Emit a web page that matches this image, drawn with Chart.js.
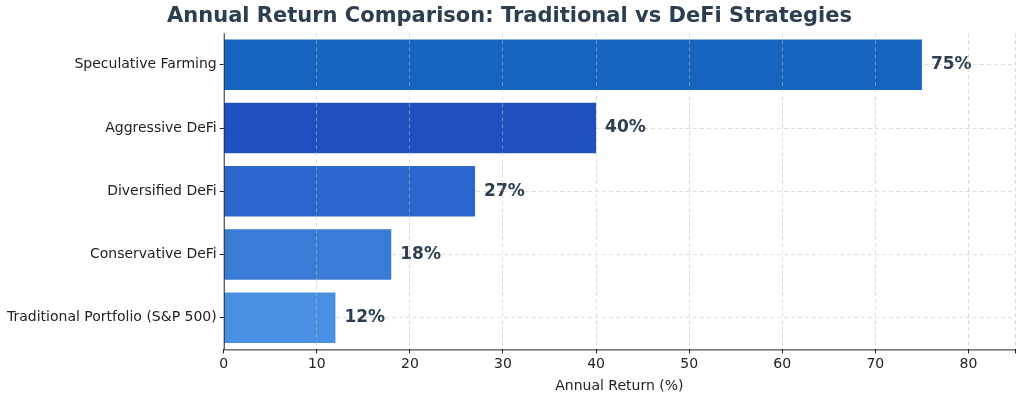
<!DOCTYPE html>
<html><head><meta charset="utf-8">
<script src="https://cdn.jsdelivr.net/npm/chart.js@4/dist/chart.umd.min.js"></script>
<style>html,body{margin:0;background:#fff}#w{width:1024px;height:403px}</style>
</head><body><div id="w"><canvas id="c"></canvas></div>
<script>
const categories = ['Speculative Farming','Aggressive DeFi','Diversified DeFi','Conservative DeFi','Traditional Portfolio (S&P 500)'];
const returns = [75, 40, 27, 18, 12];
const barColors = ['#1565C0','#1E50C0','#2B66CC','#3A7BD6','#4A90E2'];

// value labels + left/bottom axis lines
const extras = {
  id: 'extras',
  afterDatasetsDraw(chart) {
    const ctx = chart.ctx, a = chart.chartArea;
    ctx.save();
    ctx.font = 'bold 17px "DejaVu Sans"';
    ctx.fillStyle = '#2E3E50';
    ctx.textBaseline = 'middle';
    chart.getDatasetMeta(0).data.forEach((b, i) => {
      ctx.fillText(returns[i] + '%', b.x + 9, b.y);
    });
    ctx.strokeStyle = '#222';
    ctx.lineWidth = 1;
    ctx.beginPath();
    ctx.moveTo(a.left + 0.5, a.top);
    ctx.lineTo(a.left + 0.5, a.bottom + 0.5);
    ctx.lineTo(a.right, a.bottom + 0.5);
    ctx.stroke();
    ctx.restore();
  }
};

new Chart(document.getElementById('c'), {
  type: 'bar',
  data: { labels: categories, datasets: [{ data: returns, backgroundColor: barColors, categoryPercentage: 0.8, barPercentage: 1 }] },
  options: {
    indexAxis: 'y', responsive: true, maintainAspectRatio: false, animation: false,
    layout: { padding: { left: 4, right: 9, top: 0, bottom: 6 } },
    plugins: {
      legend: { display: false }, tooltip: { enabled: false },
      title: { display: true, text: 'Annual Return Comparison: Traditional vs DeFi Strategies', color: '#2E3E50',
        font: { family: 'DejaVu Sans', size: 21, weight: 'bold' }, padding: { top: 4, bottom: 4 } }
    },
    scales: {
      x: { min: 0, max: 85,
        ticks: { stepSize: 10, color: '#222', font: { family: 'DejaVu Sans', size: 14 }, callback: v => v > 80 ? '' : v },
        grid: { color: 'rgba(190,190,190,0.55)', z: 1, tickColor: '#222', tickLength: 4 },
        border: { display: false, dash: [4, 3] },
        title: { display: true, text: 'Annual Return (%)', color: '#222', font: { family: 'DejaVu Sans', size: 14 }, padding: 2 } },
      y: { ticks: { color: '#222', font: { family: 'DejaVu Sans', size: 14 } },
        grid: { offset: false, color: 'rgba(190,190,190,0.5)', z: -1, tickColor: '#222', tickLength: 4 },
        border: { display: false, dash: [4, 3] } }
    }
  },
  plugins: [extras]
});
</script></body></html>
